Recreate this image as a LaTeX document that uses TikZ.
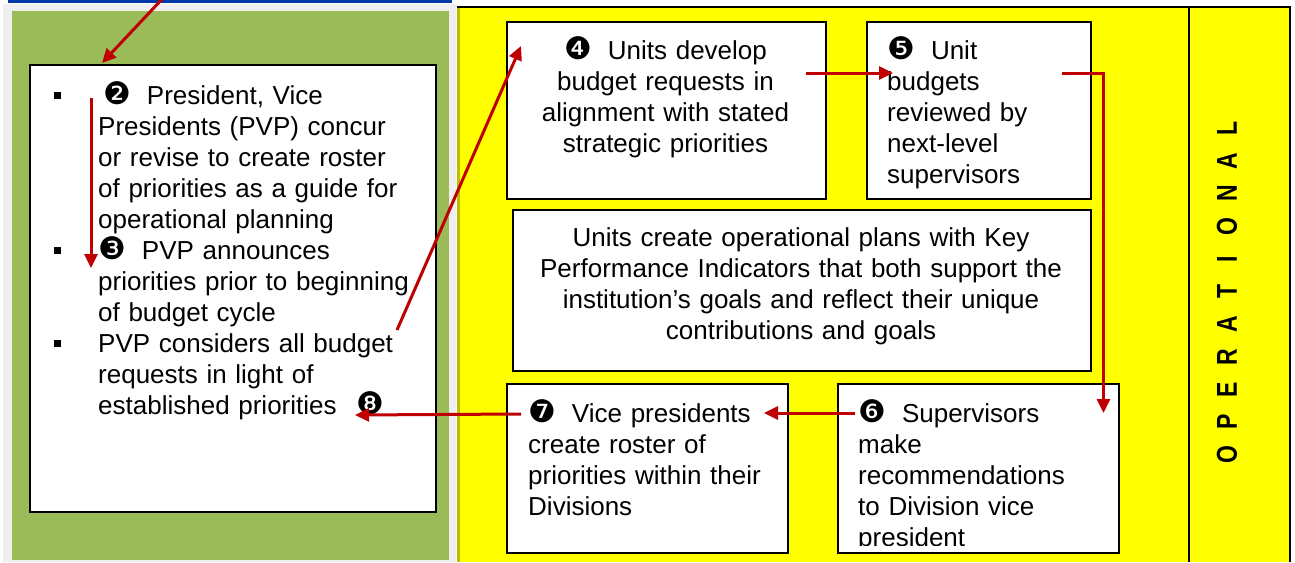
\documentclass[tikz,border=0pt]{standalone}
\usepackage{graphicx}
\usepackage{fontspec}
\setmainfont{Liberation Sans}
\newfontfamily\dingfont{DejaVu Sans}
\usetikzlibrary{arrows.meta,calc}
\definecolor{pgray}{HTML}{EFEFEF}
\definecolor{pblue}{HTML}{0038A8}
\definecolor{pgreen}{HTML}{9BBB59}
\definecolor{pyellow}{HTML}{FFFF00}
\definecolor{polive}{HTML}{BDBD00}
\definecolor{pred}{HTML}{C00000}
\newcommand\dg[1]{{\dingfont\fontsize{31}{31}\selectfont #1}}
\newcommand\sqbullet{\leavevmode\llap{\rule[5pt]{7pt}{7pt}\hspace{37pt}}}
\newcommand\opl[1]{\makebox[32.7pt]{#1}}
\begin{document}
\begin{tikzpicture}[x=1pt,y=-1pt,
  boxst/.style={draw=black, line width=1.5pt, fill=white, anchor=north west, inner sep=0pt},
  txt/.style={font=\fontsize{26}{31}\selectfont, inner sep=0pt, anchor=base west, align=left},
  ctxt/.style={font=\fontsize{26}{31}\selectfont, inner sep=0pt, anchor=base, align=center},
  arr/.style={draw=pred, line width=3pt, -{Triangle[length=14pt,width=13pt]}}]
\useasboundingbox (0,0) rectangle (1295,562);
\fill[white] (0,0) rectangle (1295,562);
% left panel
\fill[pgray] (3,4) rectangle (456,562);
\fill[pblue] (8,0) rectangle (452,3);
\fill[pgreen] (12,11) rectangle (449,560);
% right panel
\fill[pyellow] (458,7) rectangle (1290,562);
\draw[polive, line width=3pt] (458.5,8) -- (458.5,562);
\draw[line width=1.5pt] (457,7) -- (1291,7);
\draw[line width=1.5pt] (1290,7) -- (1290,562);
\draw[line width=1.5pt] (1189,7) -- (1189,562);
\node[rotate=90, font=\bfseries\fontsize{23}{23}\selectfont, inner sep=0pt] (oplabel) at (1227,291.5)
  {\scalebox{1}[1.25]{\opl{O}\opl{P}\opl{E}\opl{R}\opl{A}\opl{T}\opl{I}\opl{O}\opl{N}\opl{A}\opl{L}}};
% boxes
\node[boxst, minimum width=406pt, minimum height=447pt] (lbox) at (29,64) {};
\node[boxst, minimum width=319pt, minimum height=177pt] (box4) at (506,21) {};
\node[boxst, minimum width=224pt, minimum height=177pt] (box5) at (866,21) {};
\node[boxst, minimum width=578pt, minimum height=161pt] (boxmid) at (512,209) {};
\node[boxst, minimum width=281pt, minimum height=169pt] (box7) at (506,383) {};
\node[boxst, minimum width=281pt, minimum height=169pt] (box6) at (837,383) {};
% texts
\node[txt, text width=335pt] (ltext) at (98,104) {%
\sqbullet\hspace{5pt}\dg{❷}\hspace{16pt}President, Vice\\
Presidents (PVP) concur\\
or revise to create roster\\
of priorities as a guide for\\
operational planning\\
\sqbullet\dg{❸}\hspace{16pt}PVP announces\\
priorities prior to beginning\\
of budget cycle\\
\sqbullet PVP considers all budget\\
requests in light of\\
established priorities\hspace{20pt}\dg{❽}};
\node[ctxt, text width=310pt] (t4) at (665.5,59) {%
\dg{❹}\hspace{16pt}Units develop\\
budget requests in\\
alignment with stated\\
strategic priorities};
\node[txt, text width=200pt] (t5) at (887,59) {%
\dg{❺}\hspace{16pt}Unit\\
budgets\\
reviewed by\\
next-level\\
supervisors};
\node[ctxt, text width=570pt] (tmid) at (801,246) {%
Units create operational plans with Key\\
Performance Indicators that both support the\\
institution’s goals and reflect their unique\\
contributions and goals};
\node[txt, text width=260pt] (t7) at (528,422) {%
\dg{❼}\hspace{16pt}Vice presidents\\
create roster of\\
priorities within their\\
Divisions};
\begin{scope}
\clip ($(box6.north west)$) rectangle ($(box6.south east)+(0,-8)$);
\node[txt, text width=255pt] (t6) at (858,422) {%
\dg{❻}\hspace{16pt}Supervisors\\
make\\
recommendations\\
to Division vice\\
president};
\end{scope}
% arrows
\coordinate (a0s) at (165,-4);
\draw[arr] (a0s) -- ($(lbox.north west)+(73,-1)$);
\draw[arr] ($(lbox.north west)+(62,34)$) -- ($(lbox.north west)+(62,204)$);
\draw[arr] ($(lbox.north west)+(368,266)$) -- ($(box4.north west)+(15,25)$);
\draw[arr] ($(box4.north west)+(300,52)$) -- ($(box5.north west)+(27,52)$);
\draw[arr] ($(box5.north west)+(196,52)$) -| ($(box6.north east)+(-16,30)$);
\draw[arr] ($(box6.north west)+(18,30)$) -- ($(box7.north west)+(258,30)$);
\draw[arr] ($(box7.north west)+(15,31)$) -- ($(lbox.north west)+(326,351)$);
\end{tikzpicture}
\end{document}
